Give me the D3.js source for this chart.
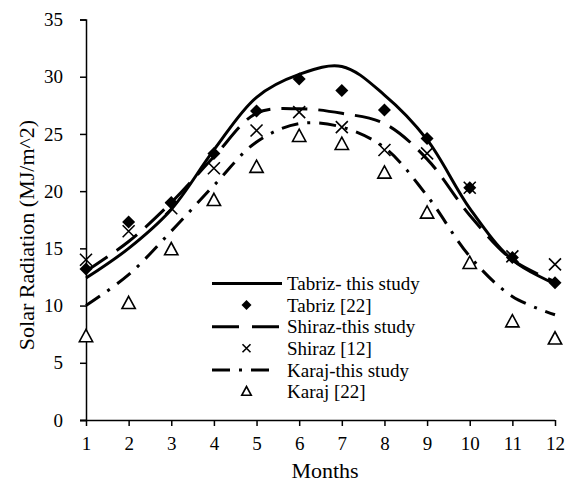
<!DOCTYPE html>
<html>
<head>
<meta charset="utf-8">
<script src="https://cdn.jsdelivr.net/npm/d3@7"></script>
<style>
    body { margin: 0; background: #fff; }
    svg { display: block; font-family: "Liberation Serif", "Times New Roman", serif; }
</style>
</head>
<body>
<div id="chart"></div>
<script>
// Months on the x axis
const months = [1, 2, 3, 4, 5, 6, 7, 8, 9, 10, 11, 12];
const yTicks = [0, 5, 10, 15, 20, 25, 30, 35];

// Model curves (this study)
const tabrizModel = [12.4, 15.0, 18.4, 23.6, 28.2, 30.2, 30.9, 28.4, 24.5, 18.5, 14.0, 11.9];
const shirazModel = [13.0, 15.6, 19.0, 23.0, 26.8, 27.2, 26.8, 25.9, 22.8, 17.9, 14.0, 12.1];
const karajModel = [10.0, 12.7, 16.5, 20.5, 24.3, 25.9, 25.6, 23.8, 19.6, 14.3, 10.8, 9.2];

// Reference measurements
const tabrizRef = [13.2, 17.3, 19.0, 23.3, 27.0, 29.8, 28.8, 27.1, 24.6, 20.3, 14.2, 12.0];
const shirazRef = [14.0, 16.5, 18.5, 22.0, 25.3, 26.9, 25.6, 23.6, 23.3, 20.3, 14.3, 13.6];
const karajRef = [7.3, 10.2, 14.9, 19.2, 22.1, 24.8, 24.1, 21.6, 18.1, 13.7, 8.6, 7.1];

const legendLabels = ['Tabriz- this study', 'Tabriz [22]', 'Shiraz-this study', 'Shiraz [12]', 'Karaj-this study', 'Karaj [22]'];

const width = 568, height = 482;
const margin = { left: 86, right: 13, top: 19.5, bottom: 62 };

const svg = d3.select('#chart').append('svg')
    .attr('width', width)
    .attr('height', height);

const x = d3.scaleLinear().domain([1, 12]).range([margin.left, width - margin.right]);
const y = d3.scaleLinear().domain([0, 35]).range([height - margin.bottom, margin.top]);

// Axes
const xAxis = svg.append('g')
    .attr('transform', `translate(0,${y(0)})`)
    .call(d3.axisBottom(x).tickValues(months).tickSize(6).tickPadding(11).tickFormat(d3.format('d')));
const yAxis = svg.append('g')
    .attr('transform', `translate(${x(1)},0)`)
    .call(d3.axisLeft(y).tickValues(yTicks).tickSize(6).tickPadding(17));

[xAxis, yAxis].forEach(ax => {
    ax.select('.domain').attr('stroke', '#000').attr('stroke-width', 1.5);
    ax.selectAll('.tick line').attr('stroke', '#000').attr('stroke-width', 1.5);
    ax.selectAll('.tick text')
        .attr('fill', '#000')
        .style('font-family', '"Liberation Serif", serif')
        .style('font-size', '19px');
});
// left tick-stub of x axis at origin
xAxis.select('.domain').attr('d', `M${x(1) - 6},0.5H${x(12)}`);

// Axis titles
svg.append('text')
    .attr('x', 325)
    .attr('y', 478)
    .attr('text-anchor', 'middle')
    .style('font-size', '22px')
    .text('Months');

svg.append('text')
    .attr('transform', `translate(34,235) rotate(-90)`)
    .attr('text-anchor', 'middle')
    .style('font-size', '22px')
    .text('Solar Radiation (MJ/m^2)');

// Line styles
const styles = [
    { data: tabrizModel, dash: null },
    { data: shirazModel, dash: '26,11' },
    { data: karajModel, dash: '17,9,3,9' }
];

const line = d3.line()
    .x((d, i) => x(months[i]))
    .y(d => y(d))
    .curve(d3.curveCatmullRom.alpha(0.5));

const plot = svg.append('g');

styles.forEach(s => {
    plot.append('path')
        .datum(s.data)
        .attr('d', line)
        .attr('fill', 'none')
        .attr('stroke', '#000')
        .attr('stroke-width', 3)
        .attr('stroke-dasharray', s.dash);
});

// Marker shapes
function diamond(sel, r) {
    sel.append('path')
        .attr('d', `M0,${-r}L${r},0L0,${r}L${-r},0Z`)
        .attr('fill', '#000');
}
function cross(sel, r) {
    sel.append('path')
        .attr('d', `M${-r},${-r}L${r},${r}M${-r},${r}L${r},${-r}`)
        .attr('stroke', '#000')
        .attr('stroke-width', 1.6)
        .attr('fill', 'none');
}
function triangle(sel, r) {
    sel.append('path')
        .attr('d', `M0,${-r}L${r * 0.95},${r * 0.75}L${-r * 0.95},${r * 0.75}Z`)
        .attr('stroke', '#000')
        .attr('stroke-width', 1.6)
        .attr('fill', '#fff');
}

const pointSets = [
    { data: karajRef, shape: triangle, r: 7 },
    { data: shirazRef, shape: cross, r: 6 },
    { data: tabrizRef, shape: diamond, r: 6.5 }
];

pointSets.forEach(p => {
    plot.selectAll(null)
        .data(p.data)
        .enter()
        .append('g')
        .attr('transform', (d, i) => `translate(${x(months[i])},${y(d)})`)
        .each(function() { p.shape(d3.select(this), p.r); });
});

// Legend
const legend = svg.append('g');
const legendX0 = 212, legendTextX = 287, legendY0 = 283.5, legendStep = 21.6;
const legendItems = [
    { type: 'line', dash: null, end: 282 },
    { type: 'mark', shape: diamond, r: 5 },
    { type: 'line', dash: '27,13', end: 282 },
    { type: 'mark', shape: cross, r: 4 },
    { type: 'line', dash: '18,9,3,9', end: 269 },
    { type: 'mark', shape: triangle, r: 5 }
];

legendItems.forEach((item, i) => {
    const ly = legendY0 + i * legendStep;
    if (item.type === 'line') {
        legend.append('line')
            .attr('x1', legendX0).attr('x2', item.end)
            .attr('y1', ly).attr('y2', ly)
            .attr('stroke', '#000')
            .attr('stroke-width', 3)
            .attr('stroke-dasharray', item.dash);
    } else {
        const g = legend.append('g').attr('transform', `translate(246.5,${ly})`);
        item.shape(g, item.r);
    }
    legend.append('text')
        .attr('x', legendTextX)
        .attr('y', ly)
        .attr('dy', '0.35em')
        .style('font-size', '19px')
        .text(legendLabels[i]);
});
</script>
</body>
</html>
